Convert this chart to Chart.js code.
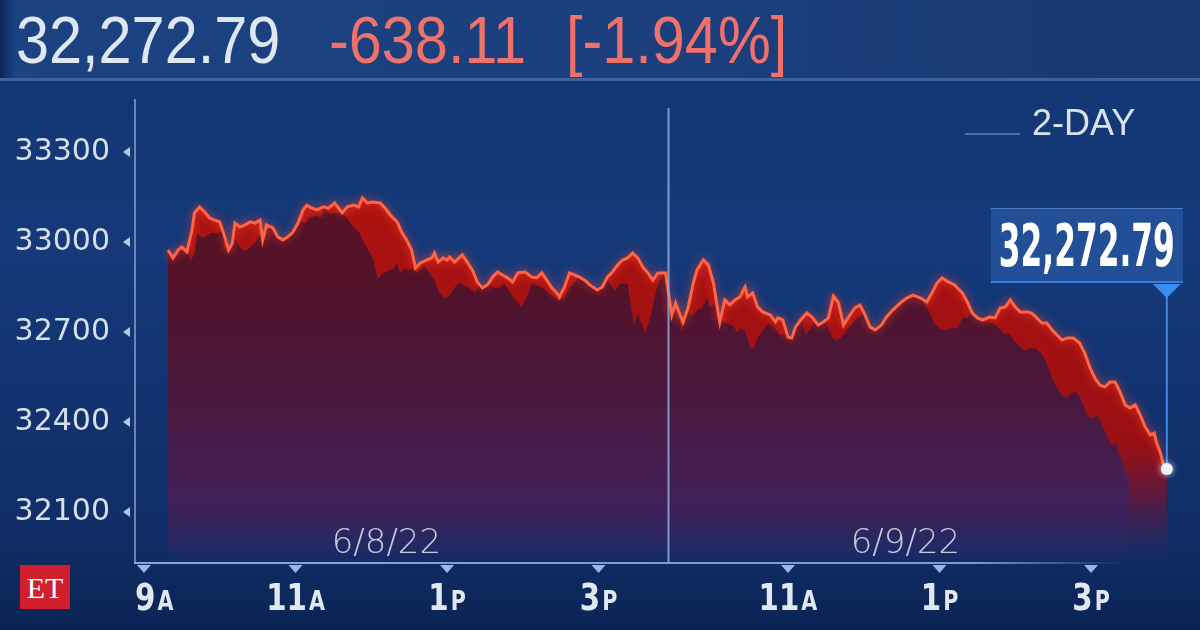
<!DOCTYPE html>
<html>
<head>
<meta charset="utf-8">
<script src="https://cdn.jsdelivr.net/npm/chart.js@4.4.1/dist/chart.umd.min.js"></script>
<style>
  html, body { margin: 0; padding: 0; }
  body {
    width: 1200px; height: 630px; overflow: hidden; position: relative;
    background: linear-gradient(180deg, #143672 0%, #15397a 40%, #102d66 85%, #0b2455 100%);
    font-family: 'Liberation Sans', Arial, sans-serif;
  }
  #chart { position: absolute; left: 0; top: 0; }
  .header {
    position: absolute; left: 0; top: 0; width: 1200px; height: 78px;
    background: linear-gradient(90deg, #0c2653 0px, #1c4282 14px, #1b3f7c 60%, #183a72 100%);
    border-bottom: 3px solid #3c62a2;
  }
  .header span {
    position: absolute; top: 7px; font-size: 66px; line-height: 66px;
    transform: scaleX(0.9); transform-origin: left center; white-space: nowrap;
  }
  .last { left: 16px; color: #dfe8f2; }
  .chg { left: 329px; color: #f0706a; }
  .pct { left: 566px; color: #f0706a; }
  .logo {
    position: absolute; left: 20px; top: 565px; width: 50px; height: 44px;
    background: #d21f2e; color: #fff; font: 30px 'Liberation Serif', serif;
    text-align: center; line-height: 46px;
  }
</style>
</head>
<body>
<div class="header">
  <span class="last">32,272.79</span>
  <span class="chg">-638.11</span>
  <span class="pct">[-1.94%]</span>
</div>
<canvas id="chart" width="1200" height="630"></canvas>
<div class="logo">ET</div>
<script>
// minutes on a compressed two-session clock: 0 = 9:00 on 6/8, day 2 opens at ~418
const DAY1_TIMES = [19,23,27,30,34,38,40,44,48,52,56,60,64,67,70,72,76,80,84,88,
    92,94,97,102,106,110,114,118,122,126,129,133,137,142,146,151,157,161,166,170,
    173,177,181,187,191,195,199,201,204,208,212,215,219,224,228,230,233,237,240,242,
    246,252,256,260,264,268,272,276,280,284,287,292,296,302,307,311,315,319,323,327,
    329,333,337,341,345,349,353,359,363,367,371,375,379,383,387,391,395,399,403,407,413];
const DAY1_VALUES = [32973,32947,32973,32983,32967,33040,33097,33117,33100,33080,
    33073,33067,33017,32973,32997,33063,33050,33057,33067,33063,
    33073,33007,33057,33047,33017,33007,33017,33033,33063,33107,
    33123,33113,33107,33117,33113,33130,33097,33117,33123,33117,
    33147,33130,33133,33130,33113,33090,33073,33063,33033,33007,
    32973,32913,32930,32940,32947,32963,32933,32947,32940,32950,
    32933,32957,32933,32907,32867,32847,32857,32883,32900,32890,
    32883,32867,32897,32900,32883,32880,32897,32873,32847,32830,
    32817,32850,32897,32890,32883,32873,32857,32840,32850,32883,
    32900,32923,32940,32947,32963,32947,32917,32897,32873,32897,32897];

const DAY2_TIMES = [418,421,423,427,431,435,438,443,447,451,454,456,460,464,468,472,476,478,482,486,
    490,496,500,502,506,510,513,516,520,525,529,534,538,542,546,550,554,558,563,567,
    571,575,579,584,588,593,599,604,609,615,620,624,628,632,637,642,648,652,656,660,
    664,670,674,678,682,686,690,694,699,703,707,711,715,719,723,727,731,736,741,745,
    749,753,757,761,765,769,773,777,781,785,789,793,797,800,802,805,807,810];
const DAY2_VALUES = [32757,32797,32773,32733,32783,32863,32907,32940,32923,32863,
    32783,32733,32807,32790,32807,32817,32850,32817,32830,32783,
    32767,32757,32733,32747,32740,32683,32680,32717,32740,32763,
    32750,32723,32733,32747,32820,32797,32723,32750,32780,32790,
    32757,32717,32707,32723,32750,32773,32797,32813,32823,32813,
    32800,32830,32863,32880,32867,32857,32830,32800,32763,32747,
    32740,32750,32747,32780,32783,32807,32783,32767,32767,32763,
    32747,32730,32730,32707,32690,32673,32680,32680,32663,32630,
    32583,32547,32523,32517,32533,32533,32500,32457,32447,32457,
    32423,32383,32357,32363,32330,32297,32263,32243];

const Y_TICKS = [32100, 32400, 32700, 33000, 33300];
const X_TICKS = [0, 120, 240, 360, 510, 630, 750];
const X_TICK_LABELS = ['9A', '11A', '1P', '3P', '11A', '1P', '3P'];
const DAY_LABELS = ['6/8/22', '6/9/22'];
const DAY_LABEL_TIMES = [192, 603];
const SESSION_BREAK = 415;
const LAST_LABEL = '32,272.79';
const RANGE_LABEL = '2-DAY';

const X_MIN = -7.1, X_MAX = 824.4;
const Y_MIN = 31933.3, Y_MAX = 33473.3;
// lagged copy that gives the darker inner fill
const SHIFT_T = 30, SHIFT_V = 35;

const ALL_VALUES = DAY1_VALUES.concat(DAY2_VALUES);
const points = DAY1_TIMES.concat(DAY2_TIMES).map((t, i) => ({ x: t, y: ALL_VALUES[i] }));

const CONDENSED = '"Liberation Sans Narrow", "DejaVu Sans Condensed", sans-serif';

function vGrad(chart, stops) {
    const { ctx, chartArea } = chart;
    if (!chartArea) return null;
    const g = ctx.createLinearGradient(0, chartArea.top, 0, chartArea.bottom);
    stops.forEach(([f, c]) => g.addColorStop(f, c));
    return g;
}

function tri(ctx, a, b, c, color) {
    ctx.beginPath();
    ctx.moveTo(a[0], a[1]); ctx.lineTo(b[0], b[1]); ctx.lineTo(c[0], c[1]);
    ctx.closePath();
    ctx.fillStyle = color;
    ctx.fill();
}

// text squeezed to a target width
function fitText(ctx, text, x, y, font, width, align) {
    ctx.save();
    ctx.font = font;
    const w = ctx.measureText(text).width;
    const k = Math.min(1, width / w);
    ctx.translate(x, y);
    ctx.scale(k, 1);
    ctx.textAlign = align || 'left';
    ctx.fillText(text, 0, 0);
    ctx.restore();
    return w * k;
}

const overlay = {
    id: 'overlay',
    afterDatasetDraw(chart, args) {
        const ctx = chart.ctx;
        if (args.index === 0) {
            // the filler paints the next dataset before our beforeDatasetDraw runs,
            // so the clip to the main area is set up here
            const pts = chart.getDatasetMeta(0).data;
            const bottom = chart.chartArea.bottom;
            ctx.save();
            ctx.beginPath();
            ctx.moveTo(pts[0].x, bottom);
            pts.forEach(p => ctx.lineTo(p.x, p.y));
            ctx.lineTo(pts[pts.length - 1].x, bottom);
            ctx.closePath();
            ctx.clip();
        }
        if (args.index === 1 || args.index === 2) ctx.restore();
    },
    beforeDatasetDraw(chart, args) {
        if (args.index === 2) {
            const ctx = chart.ctx;
            ctx.save();
            ctx.shadowColor = 'rgba(255,70,40,0.8)';
            ctx.shadowBlur = 9;
        }
    },
    afterDraw(chart) {
        const ctx = chart.ctx;
        const xs = chart.scales.x, ys = chart.scales.y;
        const ca = chart.chartArea;
        ctx.save();

        // x axis line, fading out on the right
        const ag = ctx.createLinearGradient(ca.left, 0, 1125, 0);
        ag.addColorStop(0, 'rgba(135,165,215,1)');
        ag.addColorStop(0.85, 'rgba(135,165,215,0.9)');
        ag.addColorStop(1, 'rgba(135,165,215,0)');
        ctx.strokeStyle = ag;
        ctx.lineWidth = 2;
        ctx.beginPath();
        ctx.moveTo(ca.left - 1, ca.bottom + 1);
        ctx.lineTo(1125, ca.bottom + 1);
        ctx.stroke();

        // session divider
        const dx = Math.round(xs.getPixelForValue(SESSION_BREAK)) + 0.5;
        ctx.strokeStyle = 'rgba(140,172,220,0.85)';
        ctx.lineWidth = 2;
        ctx.beginPath();
        ctx.moveTo(dx, ca.top + 8);
        ctx.lineTo(dx, ca.bottom);
        ctx.stroke();

        // y tick markers
        ys.ticks.forEach(t => {
            const py = ys.getPixelForValue(t.value);
            tri(ctx, [123, py], [130, py - 5], [130, py + 5], '#b9c8df');
        });

        // x tick markers and labels: big hour, small A/P
        ctx.textBaseline = 'alphabetic';
        xs.ticks.forEach((t, i) => {
            const px = xs.getPixelForValue(t.value);
            tri(ctx, [px - 7, ca.bottom + 3], [px + 7, ca.bottom + 3], [px, ca.bottom + 11], '#9db6de');
            const label = X_TICK_LABELS[i];
            const num = label.slice(0, -1), suf = label.slice(-1);
            const bigFont = 'bold 37px ' + CONDENSED, smallFont = 'bold 27px ' + CONDENSED;
            ctx.font = bigFont;
            const w1 = ctx.measureText(num).width * 0.88;
            ctx.font = smallFont;
            const w2 = ctx.measureText(suf).width * 0.85;
            const x0 = Math.max(ca.left, px - (w1 + w2 + 2) / 2);
            ctx.fillStyle = '#e1e8f2';
            fitText(ctx, num, x0, 610, bigFont, w1);
            fitText(ctx, suf, x0 + w1 + 2, 610, smallFont, w2);
        });

        // day labels
        ctx.font = '200 34px "DejaVu Sans", sans-serif';
        ctx.fillStyle = '#c3cee0';
        ctx.textAlign = 'center';
        DAY_LABELS.forEach((d, i) => {
            ctx.fillText(d, xs.getPixelForValue(DAY_LABEL_TIMES[i]), 553);
        });

        // range legend
        ctx.strokeStyle = 'rgba(90,125,180,0.8)';
        ctx.lineWidth = 2;
        ctx.beginPath();
        ctx.moveTo(965, 134); ctx.lineTo(1020, 134);
        ctx.stroke();
        ctx.font = '36px "Liberation Sans", sans-serif';
        ctx.fillStyle = '#d9e2ee';
        ctx.textAlign = 'left';
        ctx.fillText(RANGE_LABEL, 1032, 135);

        // last value callout
        const last = points[points.length - 1];
        const lx = xs.getPixelForValue(last.x);
        const ly = ys.getPixelForValue(last.y);
        const bw = 192, bh = 75;
        const bx = lx + 16 - bw, by = 208;
        ctx.fillStyle = 'rgba(38,86,160,0.78)';
        ctx.fillRect(bx, by, bw, bh);
        ctx.fillStyle = 'rgba(120,160,225,0.55)';
        ctx.fillRect(bx, by, bw, 1);
        ctx.fillStyle = '#3d7fd8';
        ctx.fillRect(bx, by + bh - 2, bw, 2);
        ctx.fillStyle = '#ffffff';
        fitText(ctx, LAST_LABEL, bx + bw / 2, 266, 'bold 58px ' + CONDENSED, 176, 'center');

        tri(ctx, [lx - 14, by + bh + 1], [lx + 14, by + bh + 1], [lx, by + bh + 15], '#3b8cf0');
        ctx.strokeStyle = '#3f88e8';
        ctx.lineWidth = 2;
        ctx.beginPath();
        ctx.moveTo(lx, by + bh + 14);
        ctx.lineTo(lx, ly);
        ctx.stroke();

        ctx.shadowColor = 'rgba(255,255,255,0.8)';
        ctx.shadowBlur = 6;
        ctx.fillStyle = '#eef3fb';
        ctx.beginPath();
        ctx.arc(lx, ly, 6, 0, Math.PI * 2);
        ctx.fill();
        ctx.restore();
    }
};

new Chart(document.getElementById('chart'), {
    type: 'line',
    data: {
        datasets: [
            {
                data: points,
                order: 3,
                fill: 'start',
                borderWidth: 0,
                pointRadius: 0,
                backgroundColor: c => vGrad(c.chart, [
                    [0, 'rgb(182,22,16)'], [0.45, 'rgb(165,17,18)'], [0.74, 'rgb(155,16,20)'],
                    [0.85, 'rgb(98,24,58)'], [0.96, 'rgba(45,38,95,0.6)'], [1, 'rgba(25,45,105,0.1)']
                ]),
            },
            {
                data: points,
                xAxisID: 'x2',
                yAxisID: 'y2',
                order: 2,
                fill: 'start',
                borderWidth: 0,
                pointRadius: 0,
                backgroundColor: c => vGrad(c.chart, [
                    [0, 'rgb(98,18,34)'], [0.4, 'rgb(82,18,42)'], [0.65, 'rgb(74,24,62)'],
                    [0.85, 'rgb(68,32,88)'], [0.96, 'rgba(45,40,100,0.55)'], [1, 'rgba(25,45,105,0.1)']
                ]),
            },
            {
                data: points,
                order: 1,
                fill: false,
                borderColor: '#ff6444',
                borderWidth: 3,
                pointRadius: 0,
                tension: 0,
            }
        ]
    },
    options: {
        responsive: false,
        animation: false,
        layout: { padding: { top: 100, right: 15, left: 0, bottom: 0 } },
        plugins: { legend: { display: false }, tooltip: { enabled: false } },
        scales: {
            x: {
                type: 'linear',
                min: X_MIN,
                max: X_MAX,
                afterFit: s => { s.height = 68; },
                afterBuildTicks: s => { s.ticks = X_TICKS.map(v => ({ value: v })); },
                ticks: { display: false },
                grid: { display: false },
                border: { display: false },
            },
            y: {
                type: 'linear',
                min: Y_MIN,
                max: Y_MAX,
                afterFit: s => { s.width = 135; },
                afterBuildTicks: s => { s.ticks = Y_TICKS.map(v => ({ value: v })); },
                ticks: {
                    callback: v => String(v),
                    color: '#d6dfeb',
                    padding: 17,
                    font: { family: 'DejaVu Sans', size: 30 },
                },
                grid: { display: false },
                border: { display: true, color: 'rgba(140,170,215,0.7)', width: 2 },
            },
            x2: { type: 'linear', display: false, min: X_MIN + SHIFT_T, max: X_MAX + SHIFT_T },
            y2: { type: 'linear', display: false, min: Y_MIN + SHIFT_V, max: Y_MAX + SHIFT_V },
        }
    },
    plugins: [overlay]
});
</script>
</body>
</html>
